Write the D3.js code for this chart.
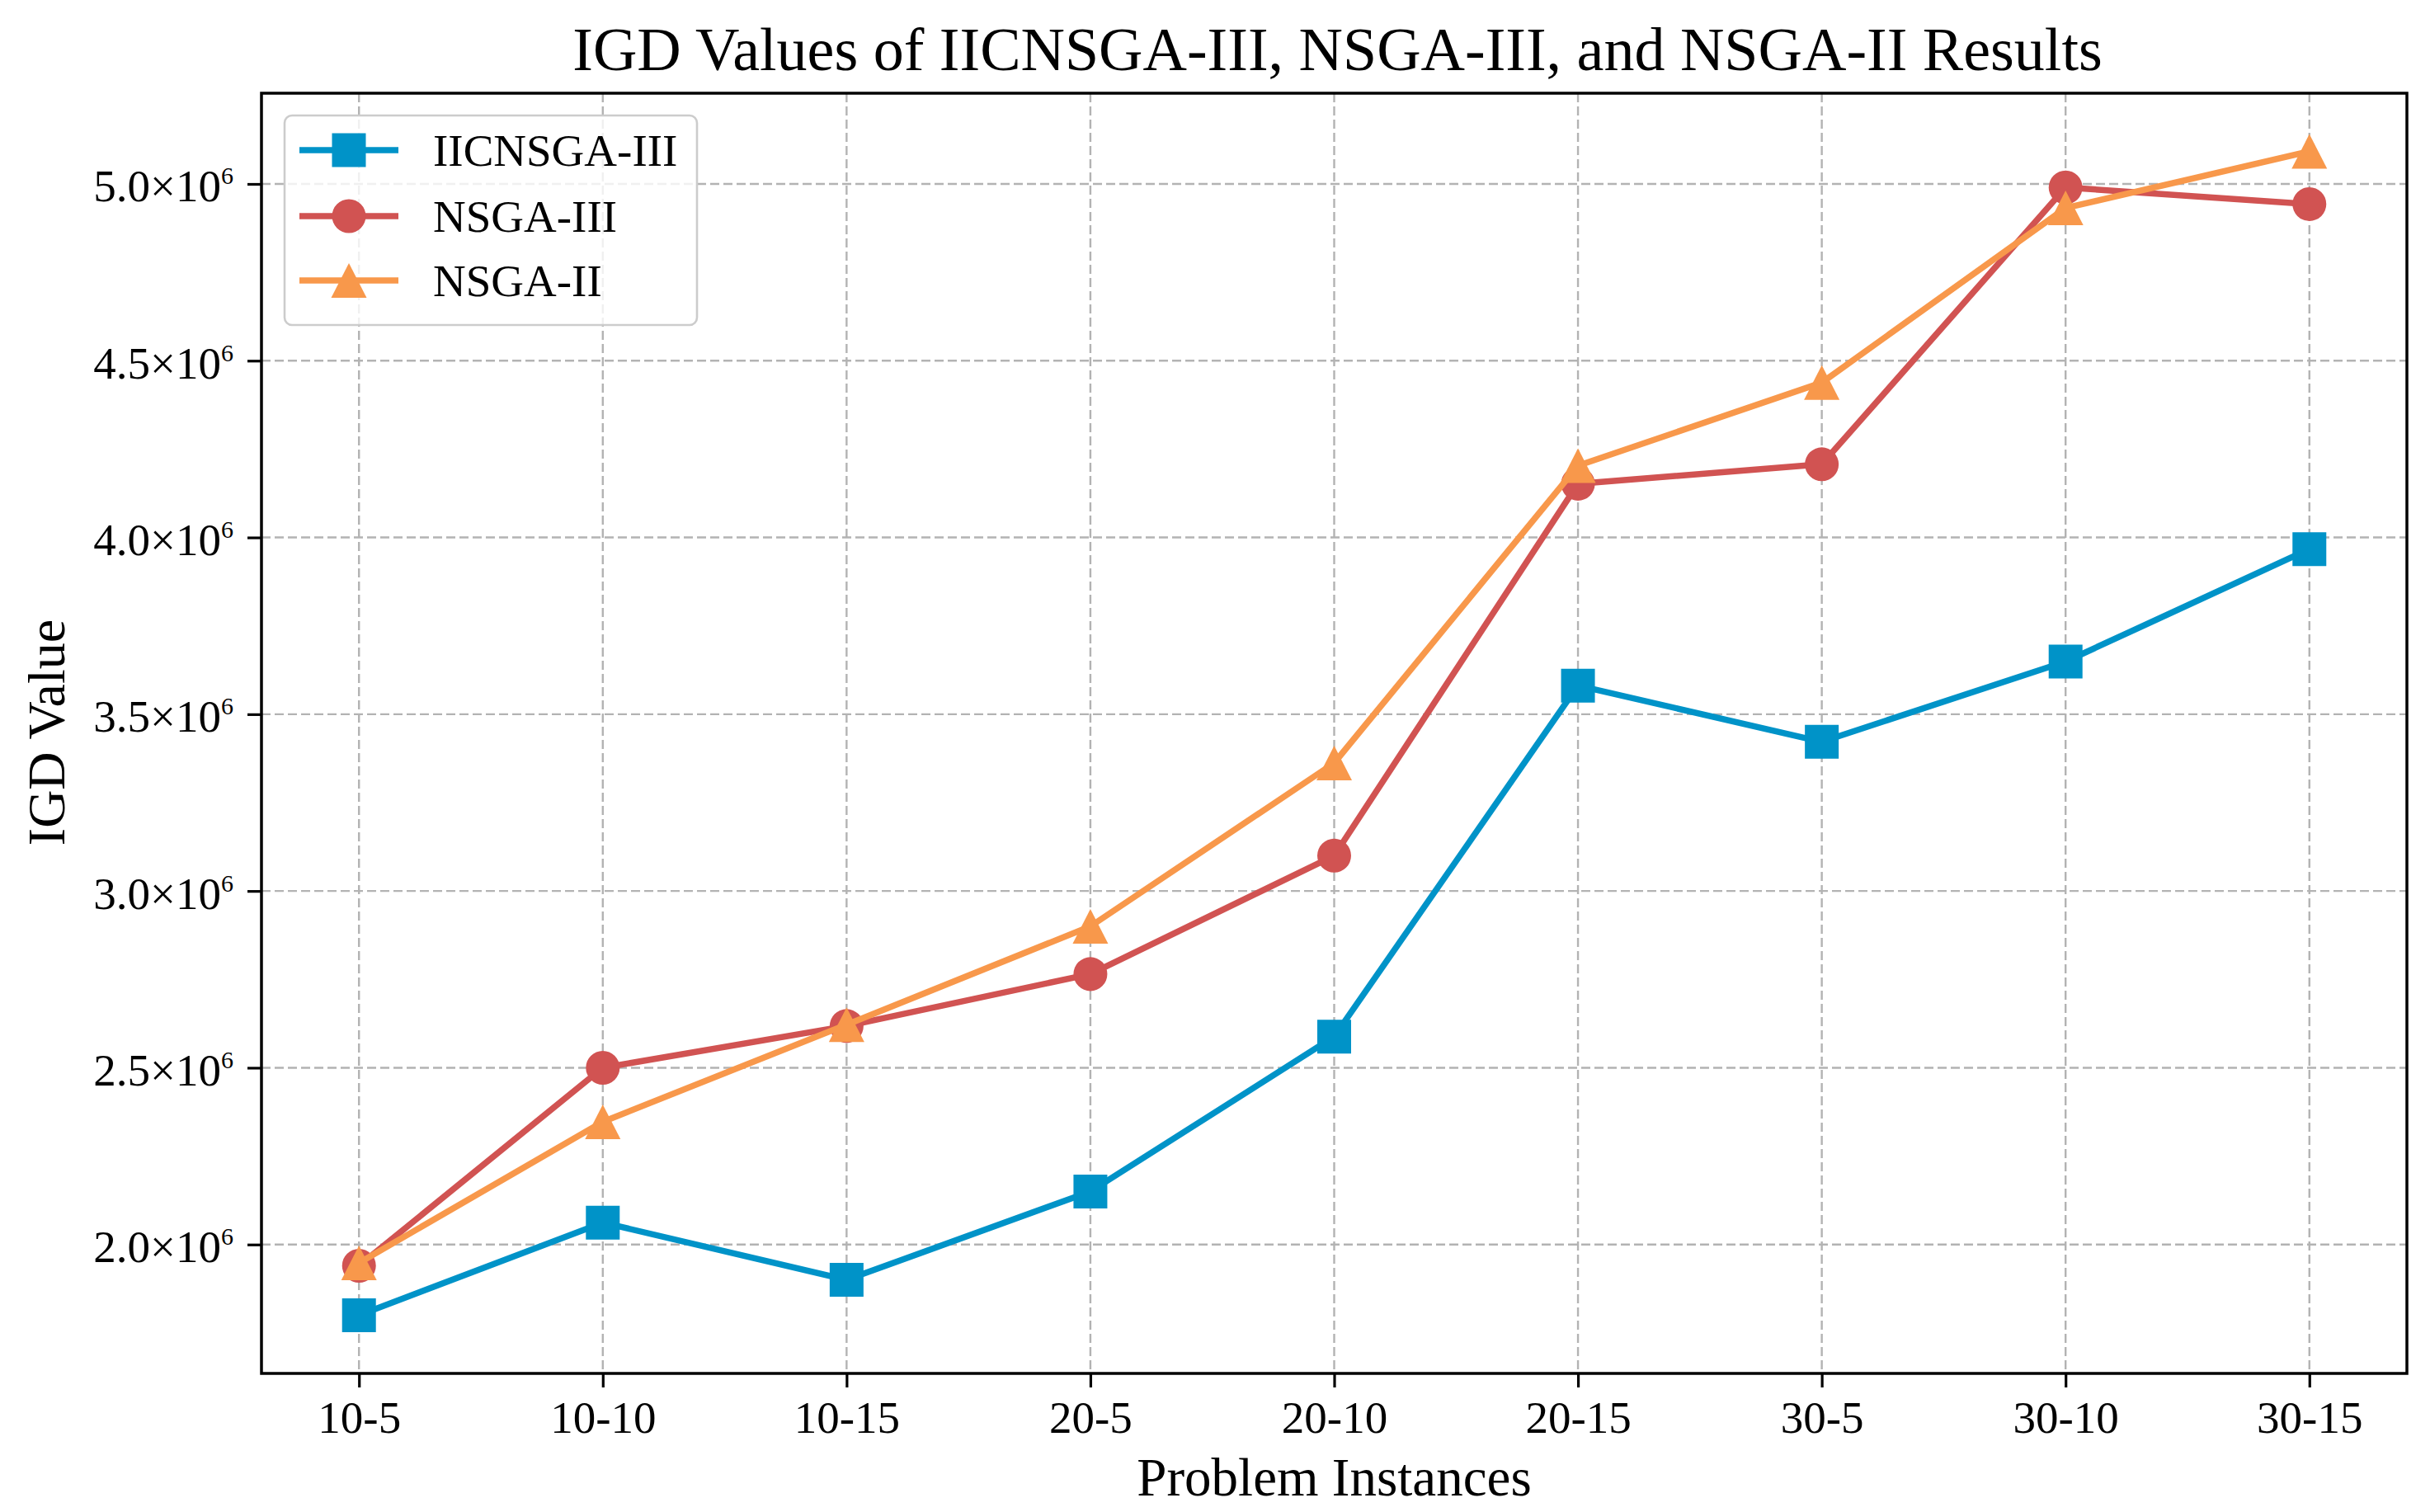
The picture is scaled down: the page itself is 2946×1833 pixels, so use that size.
<!DOCTYPE html>
<html>
<head>
<meta charset="utf-8">
<script src="https://cdn.jsdelivr.net/npm/d3@7"></script>
<style>
  html, body { margin: 0; padding: 0; background: #ffffff; }
  svg { display: block; }
  text { font-family: "Liberation Serif", "Times New Roman", serif; fill: #000; }
</style>
</head>
<body>
<svg id="chart" width="2946" height="1833"></svg>
<script>
// ---- data ----
const categories = ["10-5", "10-10", "10-15", "20-5", "20-10", "20-15", "30-5", "30-10", "30-15"];
const seriesNames = ["IICNSGA-III", "NSGA-III", "NSGA-II"];
const iicnsga3 = [1.80e6, 2.062e6, 1.90e6, 2.15e6, 2.588e6, 3.581e6, 3.422e6, 3.649e6, 3.967e6];
const nsga3    = [1.94e6, 2.50e6, 2.618e6, 2.765e6, 3.10e6, 4.152e6, 4.207e6, 4.990e6, 4.943e6];
const nsga2    = [1.948e6, 2.347e6, 2.622e6, 2.90e6, 3.362e6, 4.203e6, 4.438e6, 4.932e6, 5.092e6];
const yTickValues = [2.0e6, 2.5e6, 3.0e6, 3.5e6, 4.0e6, 4.5e6, 5.0e6];
const yTickMantissas = ["2.0", "2.5", "3.0", "3.5", "4.0", "4.5", "5.0"];
const yTickExponent = "6";
const titleText = "IGD Values of IICNSGA-III, NSGA-III, and NSGA-II Results";
const xLabelText = "Problem Instances";
const yLabelText = "IGD Value";
const colors = ["#0093c8", "#d15352", "#f8984b"];
const markers = ["square", "circle", "triangle"];

// ---- layout ----
const W = 2946, H = 1833;
const plot = { left: 317, right: 2918, top: 113, bottom: 1665 };
const svg = d3.select("#chart");

const seriesValues = [iicnsga3, nsga3, nsga2];
const all = seriesValues.flat();
const [minV, maxV] = d3.extent(all);
const pad = 0.05 * (maxV - minV);

const x = d3.scaleLinear().domain([-0.4, categories.length - 1 + 0.4]).range([plot.left, plot.right]);
const y = d3.scaleLinear().domain([minV - pad, maxV + pad]).range([plot.bottom, plot.top]);

// ---- grid ----
const grid = svg.append("g").attr("class", "grid");
grid.selectAll("line.v").data(d3.range(categories.length)).join("line")
  .attr("x1", d => x(d)).attr("x2", d => x(d))
  .attr("y1", plot.top).attr("y2", plot.bottom)
  .attr("stroke", "#b3b3b3").attr("stroke-width", 2.4).attr("stroke-dasharray", "11,5");
grid.selectAll("line.h").data(yTickValues).join("line")
  .attr("x1", plot.left).attr("x2", plot.right)
  .attr("y1", d => y(d)).attr("y2", d => y(d))
  .attr("stroke", "#b3b3b3").attr("stroke-width", 2.4).attr("stroke-dasharray", "11,5");

// ---- markers ----
function markerPath(type) {
  if (type === "square") return d3.symbol().type(d3.symbolSquare).size(41 * 41)();
  if (type === "circle") return d3.symbol().type(d3.symbolCircle).size(Math.PI * 20.5 * 20.5)();
  const p = d3.path();
  p.moveTo(0, -21); p.lineTo(-21.5, 21); p.lineTo(21.5, 21); p.closePath();
  return p.toString();
}

// ---- series ----
const line = d3.line().x((d, i) => x(i)).y(d => y(d));
seriesValues.forEach((vals, s) => {
  const g = svg.append("g");
  g.append("path").datum(vals).attr("d", line)
    .attr("fill", "none").attr("stroke", colors[s]).attr("stroke-width", 7.5)
    .attr("stroke-linejoin", "round").attr("stroke-linecap", "square");
  g.selectAll("path.m").data(vals).join("path").attr("class", "m")
    .attr("d", markerPath(markers[s]))
    .attr("transform", (d, i) => `translate(${x(i)},${y(d)})`)
    .attr("fill", colors[s]);
});

// ---- axes ----
const xAxis = svg.append("g").attr("transform", `translate(0,${plot.bottom})`)
  .call(d3.axisBottom(x).tickValues(d3.range(categories.length)).tickFormat(i => categories[i])
    .tickSize(17).tickPadding(16).tickSizeOuter(0));
xAxis.select(".domain").remove();
xAxis.selectAll(".tick line").attr("stroke", "#000").attr("stroke-width", 3.2);
xAxis.selectAll(".tick text").attr("font-size", 55).attr("font-family", "Liberation Serif");

const yAxis = svg.append("g").attr("transform", `translate(${plot.left},0)`)
  .call(d3.axisLeft(y).tickValues(yTickValues).tickFormat("").tickSize(17).tickPadding(17).tickSizeOuter(0));
yAxis.select(".domain").remove();
yAxis.selectAll(".tick line").attr("stroke", "#000").attr("stroke-width", 3.2);
yAxis.selectAll(".tick text").each(function(d, i) {
  const t = d3.select(this).attr("font-size", 55).attr("font-family", "Liberation Serif").attr("dy", "0.38em");
  t.text(null);
  t.append("tspan").text(yTickMantissas[i] + "\u00d710");
  t.append("tspan").attr("font-size", 30).attr("dy", -21).text(yTickExponent);
});

// frame
svg.append("rect")
  .attr("x", plot.left).attr("y", plot.top)
  .attr("width", plot.right - plot.left).attr("height", plot.bottom - plot.top)
  .attr("fill", "none").attr("stroke", "#000").attr("stroke-width", 3.5);

// ---- legend ----
const lg = svg.append("g");
lg.append("rect").attr("x", 345).attr("y", 140).attr("width", 500).attr("height", 254)
  .attr("rx", 9).attr("fill", "#fff").attr("fill-opacity", 0.8)
  .attr("stroke", "#cccccc").attr("stroke-width", 2.6);
const rowY = [182, 262, 340];
seriesNames.forEach((name, s) => {
  lg.append("line").attr("x1", 363).attr("x2", 483).attr("y1", rowY[s]).attr("y2", rowY[s])
    .attr("stroke", colors[s]).attr("stroke-width", 7.5);
  lg.append("path").attr("d", markerPath(markers[s]))
    .attr("transform", `translate(423,${rowY[s]})`).attr("fill", colors[s]);
  lg.append("text").attr("x", 525).attr("y", rowY[s]).attr("dy", "0.35em")
    .attr("font-size", 55).text(name);
});

// ---- titles ----
svg.append("text").attr("x", (plot.left + plot.right) / 2 + 4).attr("y", 85)
  .attr("text-anchor", "middle").attr("font-size", 74).text(titleText);
svg.append("text").attr("x", (plot.left + plot.right) / 2).attr("y", 1813)
  .attr("text-anchor", "middle").attr("font-size", 65).text(xLabelText);
svg.append("text").attr("transform", `translate(78,888) rotate(-90)`)
  .attr("text-anchor", "middle").attr("font-size", 64).text(yLabelText);
</script>
</body>
</html>
